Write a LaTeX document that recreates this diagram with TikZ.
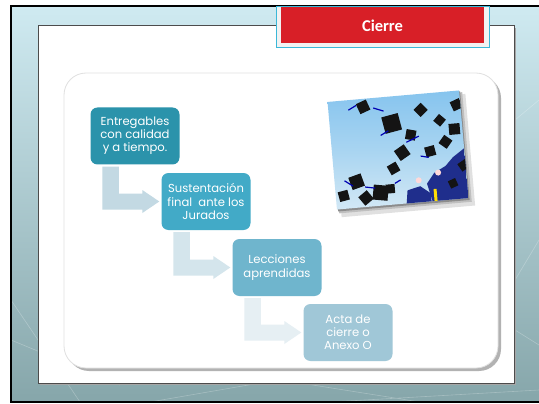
\documentclass[tikz,border=0pt]{standalone}
\usepackage{fontspec}
\setmainfont{Carlito}
\newfontfamily\gothic{Poppins}
\usetikzlibrary{calc,shadows}
\definecolor{bgtop}{HTML}{CFEAF1}
\definecolor{bgbot}{HTML}{86A6AA}
\definecolor{titlered}{HTML}{D81F27}
\definecolor{titleedge}{HTML}{3BB8D8}
\definecolor{cA}{HTML}{2B93AB}
\definecolor{cB}{HTML}{42AAC7}
\definecolor{cC}{HTML}{6FB5CD}
\definecolor{cD}{HTML}{A0C7D7}
\definecolor{aA}{HTML}{C3D9E3}
\definecolor{aB}{HTML}{D4E5EC}
\definecolor{aC}{HTML}{E6EFF3}
\definecolor{skytop}{HTML}{86C4EE}
\definecolor{skybot}{HTML}{D2E8F5}
\definecolor{robe}{HTML}{1F2E8C}
\newcommand\bentarrow[3]{%
  \fill[#1] let \p1=(#2.south west), \p2=(#3.west) in
  (\x1+12pt,\y1-2pt) -- (\x1+28.5pt,\y1-2pt) -- (\x1+28.5pt,\y2+8pt)
  -- (\x2-19pt,\y2+8pt) -- (\x2-19pt,\y2+11.5pt) -- (\x2-2pt,\y2)
  -- (\x2-19pt,\y2-11.5pt) -- (\x2-19pt,\y2-8pt) -- (\x1+12pt,\y2-8pt) -- cycle;}
\begin{document}
\begin{tikzpicture}[x=1pt,y=-1pt,
  stepbox/.style={rounded corners=7pt, minimum width=89pt, minimum height=57pt,
    inner sep=0pt, text=white, align=center,
    font=\gothic\fontsize{11.6}{13.2}\selectfont},
  gradcap/.style={fill=black!92}]
\useasboundingbox (0,0) rectangle (539,404);
% background
\fill[top color=bgtop, bottom color=bgbot] (11,6) rectangle (539,402);
\begin{scope}
\clip (11,6) rectangle (539,402);
\draw[white, opacity=.25, line width=.6pt] (11,300) -- (80,402) (11,340) -- (120,385) (150,402) -- (260,383) (300,383) -- (420,402) (515,280) -- (539,240) (515,330) -- (539,345) (515,120) -- (539,100) (330,402) -- (539,390);
\end{scope}
\draw[black, line width=1.5pt] (539,6) -- (11,6) -- (11,402) -- (539,402);
% panel
\fill[black!35] (40,28) rectangle (516,385);
\draw[fill=white, draw=black!70, line width=1pt] (38,26) rectangle (514,383);
% title
\node[draw=titleedge, fill=white!95!black, line width=.8pt, minimum width=213pt, minimum height=41pt, inner sep=0pt] (titleframe) at (382.5,27) {};
\node[fill=titlered, minimum width=203pt, minimum height=36pt, inner sep=0pt, text=white, font=\bfseries\fontsize{16.5}{18}\selectfont] (title) at (382.5,25.5) {Cierre};
% rounded panel
\fill[black!30, rounded corners=22pt] (67,76) rectangle (501,371);
\draw[fill=white, draw=black!12, rounded corners=22pt, line width=.8pt] (64,73) rectangle (498,368);
% photo
\begin{scope}[shift={(398,150)}, rotate=5]
\fill[black!12] (-62,-50) rectangle (72,62);
\fill[black!25] (-64,-52) rectangle (69,58);
\fill[black!45] (-65,-53) rectangle (67,56);
\shade[top color=skytop, bottom color=skybot, middle color=skytop!55!skybot] (-66,-54) rectangle (66,54);
\begin{scope}[shift={(-66,-54)}]
\clip (0,0) rectangle (132,108);
\fill[robe] (96,108) -- (92,90) -- (100,80) -- (112,74) -- (120,66) -- (132,58) -- (132,108) -- cycle;
\fill[robe] (70,108) -- (72,95) -- (85,92) -- (95,100) -- (95,108) -- cycle;
\fill[yellow!80!orange] (98,96) rectangle (101,108);
\fill[white!85!red] (84,86) circle (3);
\fill[white!85!red] (104,80) circle (3);
\foreach \x/\y/\s/\r in {35/8/11/20,62/27/17/10,92/16/10/40,80/40/10/-15,70/57/12/30,98/58/10/10,114/50/10/50,124/38/11/0,22/82/13/15,45/95/15/-10,60/72/10/25,30/99/11/35,128/14/10/20,110/28/9/45,8/95/10/10,55/92/9/0,118/92/8/20,130/75/9/30}
  \fill[gradcap, rotate around={\r:(\x,\y)}] (\x-\s/2,\y-\s/2) rectangle (\x+\s/2,\y+\s/2);
\draw[blue!70!black, line width=1.2pt] (20,10) -- (28,6) (45,10) -- (55,14) (58,34) -- (50,38) (75,47) -- (88,42) (88,62) -- (96,64) (10,80) -- (18,86) (40,90) -- (30,88) (60,87) -- (66,84);
\end{scope}
\end{scope}
% steps
\node[stepbox, fill=cA] (b1) at (135,136) {Entregables\\con calidad\\y a tiempo.};
\node[stepbox, fill=cB] (b2) at (206,201.5) {Sustentación\\final~ ante los\\Jurados};
\node[stepbox, fill=cC] (b3) at (277,267.5) {Lecciones\\aprendidas};
\node[stepbox, fill=cD] (b4) at (348,332.5) {Acta de\\cierre o\\Anexo O};
\bentarrow{aA}{b1}{b2}
\bentarrow{aB}{b2}{b3}
\bentarrow{aC}{b3}{b4}
\end{tikzpicture}
\end{document}
